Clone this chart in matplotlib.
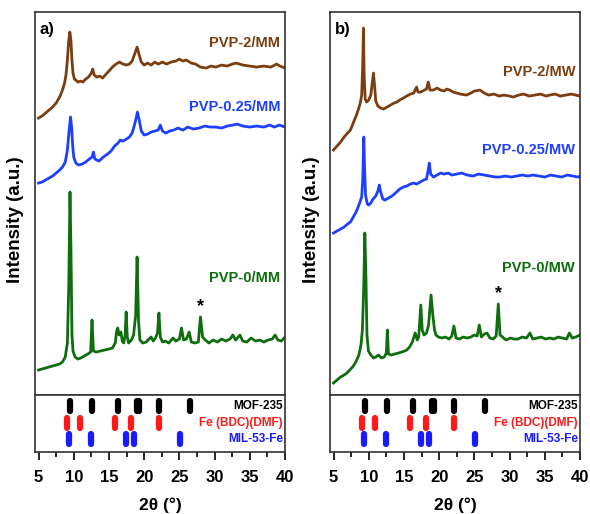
import numpy as np
import matplotlib
matplotlib.use("Agg")
import matplotlib.pyplot as plt
from matplotlib.ticker import MultipleLocator

plt.rcParams["font.family"] = ["Liberation Sans", "DejaVu Sans"]
plt.rcParams["font.weight"] = "bold"

# ---------------------------------------------------------------------------
# Data: 2theta (deg) and stacked intensity (a.u., offset)
# ---------------------------------------------------------------------------
two_theta_mm2 = [5.0, 5.5, 6.0, 6.5, 7.0, 7.5, 8.0, 8.4, 8.7, 8.9, 9.1, 9.3, 9.45, 9.6, 9.75, 9.9,
                 10.1, 10.3, 10.6, 11.0, 11.3, 11.7, 12.1, 12.5, 12.7, 12.9, 13.3, 13.7, 14.1,
                 14.6, 15.0, 15.5, 16.0, 16.5, 17.0, 17.5, 17.9, 18.3, 18.7, 19.0, 19.3, 19.6,
                 20.0, 20.5, 21.0, 21.5, 22.0, 22.6, 23.2, 23.8, 24.5, 25.0, 25.5, 26.0, 26.7,
                 27.3, 28.0, 28.8, 29.5, 30.2, 31.0, 31.8, 32.5, 33.1, 34.0, 35.0, 36.0, 37.0,
                 38.0, 38.8, 39.3, 40.0]
intensity_mm2 = [277, 279, 282, 285, 288, 292, 298, 305, 312, 320, 335, 355, 363, 355, 335, 322,
                 316, 315, 313, 314, 313, 316, 318, 322, 326, 320, 318, 319, 317,
                 321, 324, 328, 331, 333, 331, 330, 331, 334, 342, 348, 340, 333,
                 330, 332, 330, 333, 331, 333, 331, 333, 334, 336, 334, 335, 332,
                 331, 328, 327, 329, 328, 330, 329, 331, 332, 330, 329, 328, 329,
                 328, 331, 329, 327]

two_theta_mm025 = [5.0, 5.5, 6.0, 6.5, 7.0, 7.5, 8.0, 8.4, 8.8, 9.1, 9.35, 9.55, 9.7, 9.85, 10.0,
                   10.3, 10.7, 11.2, 11.7, 12.2, 12.6, 12.8, 13.0, 13.6, 14.2, 14.8, 15.3, 15.8,
                   16.3, 16.6, 17.0, 17.5, 17.9, 18.3, 18.7, 19.05, 19.3, 19.6, 20.0, 20.5, 21.0,
                   21.5, 22.0, 22.3, 22.6, 23.1, 23.6, 24.2, 24.8, 25.5, 26.2, 27.0, 27.8, 28.6,
                   29.4, 30.2, 31.0, 31.8, 32.6, 33.2, 34.0, 35.0, 36.0, 37.0, 37.8, 38.5, 39.2,
                   40.0]
intensity_mm025 = [212, 213, 215, 217, 219, 222, 225, 228, 233, 245, 265, 278, 268, 250, 238,
                   232, 230, 231, 233, 236, 238, 243, 236, 234, 238, 241, 244, 249,
                   252, 255, 254, 256, 258, 262, 272, 283, 275, 264, 260, 261, 263,
                   264, 265, 270, 264, 262, 264, 265, 267, 265, 268, 266, 267, 269,
                   268, 268, 267, 269, 270, 271, 269, 268, 269, 268, 270, 268, 270,
                   268]

two_theta_mm0 = [5.0, 5.5, 6.0, 6.5, 7.0, 7.5, 8.0, 8.4, 8.8, 9.1, 9.3, 9.47, 9.6, 9.75, 9.9,
                 10.2, 10.6, 11.0, 11.5, 12.0, 12.4, 12.6, 12.8, 13.2, 13.8, 14.4, 15.0, 15.5,
                 15.9, 16.1, 16.25, 16.45, 16.7, 16.9, 17.1, 17.3, 17.45, 17.6, 17.8, 18.2, 18.5,
                 18.8, 19.0, 19.2, 19.4, 19.8, 20.3, 20.7, 21.0, 21.3, 21.6, 21.9, 22.1, 22.3,
                 22.6, 23.0, 23.5, 24.1, 24.5, 25.0, 25.3, 25.6, 26.0, 26.4, 26.7, 27.2, 27.7,
                 28.0, 28.3, 28.7, 29.2, 29.8, 30.4, 31.0, 31.6, 32.2, 32.6, 33.0, 33.6, 34.0,
                 34.6, 35.2, 35.8, 36.4, 37.0, 37.6, 38.2, 38.6, 39.0, 39.5, 40.0]
intensity_mm0 = [25, 26, 27, 28, 29, 30, 31, 33, 38, 52, 110, 203, 150, 60, 44,
                 38, 36, 37, 39, 41, 43, 75, 44, 43, 44, 45, 46, 47,
                 52, 64, 67, 60, 63, 54, 52, 60, 83, 58, 52, 55, 60,
                 80, 138, 75, 55, 52, 53, 56, 58, 54, 57, 62, 82, 58,
                 53, 54, 52, 57, 54, 56, 67, 55, 56, 63, 53, 52, 53,
                 78, 58, 55, 52, 55, 53, 56, 54, 56, 60, 55, 60, 54,
                 53, 57, 54, 55, 53, 55, 56, 60, 55, 54, 58]

two_theta_mw2 = [5.0, 5.5, 6.0, 6.5, 7.0, 7.4, 7.8, 8.2, 8.5, 8.8, 9.0, 9.15, 9.25, 9.35, 9.5,
                 9.7, 10.0, 10.3, 10.5, 10.67, 10.85, 11.0, 11.3, 11.7, 12.1, 12.6, 13.1, 13.6,
                 14.0, 14.4, 14.9, 15.4, 15.9, 16.4, 16.65, 16.8, 17.0, 17.4, 17.9, 18.2, 18.45,
                 18.7, 19.2, 19.7, 20.2, 20.7, 21.1, 21.5, 22.0, 22.5, 23.0, 23.9, 24.5, 25.0,
                 25.8, 26.4, 27.0, 27.8, 28.5, 29.2, 30.0, 30.5, 31.3, 32.0, 32.8, 33.6, 34.4,
                 35.2, 35.7, 36.5, 37.2, 38.0, 38.8, 39.4, 40.0]
intensity_mw2 = [245, 249, 253, 258, 262, 265, 272, 279, 285, 292, 300, 330, 367, 320, 296,
                 293, 295, 300, 312, 322, 308, 294, 289, 287, 286, 288, 290, 292,
                 293, 295, 297, 299, 301, 302, 306, 308, 303, 303, 305, 306, 313,
                 305, 305, 307, 305, 304, 306, 305, 303, 302, 301, 300, 302, 304,
                 305, 302, 300, 301, 299, 300, 299, 298, 300, 301, 299, 300, 301,
                 299, 300, 301, 299, 300, 301, 300, 299]

two_theta_mw025 = [5.0, 5.5, 6.0, 6.5, 7.0, 7.4, 7.8, 8.2, 8.5, 8.8, 9.0, 9.15, 9.3, 9.4, 9.55,
                   9.8, 10.0, 10.3, 10.6, 11.0, 11.3, 11.5, 11.7, 12.0, 12.3, 12.8, 13.3, 13.8,
                   14.4, 14.9, 15.4, 15.9, 16.4, 16.8, 17.3, 17.8, 18.2, 18.45, 18.6, 18.8, 19.2,
                   19.7, 20.2, 20.7, 21.3, 21.8, 22.5, 23.2, 24.0, 24.8, 25.6, 26.4, 27.2, 28.0,
                   28.6, 29.4, 30.2, 31.0, 31.8, 32.6, 33.3, 34.2, 35.0, 35.8, 36.6, 37.4, 38.2,
                   39.0, 39.7, 40.0]
intensity_mw025 = [162, 164, 166, 168, 171, 173, 178, 183, 188, 194, 198, 215, 258, 230, 200,
                   191, 190, 192, 196, 199, 204, 210, 203, 196, 195, 197, 199, 202,
                   206, 208, 209, 211, 212, 211, 213, 215, 216, 225, 232, 221, 218,
                   220, 222, 221, 222, 220, 221, 222, 220, 219, 221, 220, 219, 218,
                   218, 219, 218, 219, 220, 219, 220, 219, 218, 220, 219, 218, 220,
                   219, 218, 219]

two_theta_mw0 = [5.0, 5.5, 6.0, 6.5, 6.9, 7.3, 7.7, 8.0, 8.3, 8.6, 8.9, 9.1, 9.3, 9.45, 9.6,
                 9.75, 9.96, 10.3, 10.7, 11.0, 11.4, 11.8, 12.2, 12.5, 12.65, 12.8, 13.2, 13.7,
                 14.2, 14.7, 15.1, 15.4, 15.8, 16.2, 16.6, 16.9, 17.1, 17.4, 17.6, 17.85, 18.2,
                 18.5, 18.85, 19.1, 19.35, 19.55, 19.9, 20.4, 20.9, 21.4, 21.8, 22.1, 22.4, 22.9,
                 23.4, 24.0, 24.5, 25.0, 25.4, 25.7, 26.0, 26.4, 26.8, 27.2, 27.7, 28.1, 28.4,
                 28.65, 29.0, 29.5, 30.1, 30.6, 31.2, 31.8, 32.4, 32.9, 33.3, 33.9, 34.5, 35.1,
                 35.7, 36.3, 36.9, 37.5, 38.1, 38.5, 38.9, 39.4, 40.0]
intensity_mw0 = [12, 15, 18, 20, 22, 25, 28, 31, 35, 40, 50, 65, 110, 162, 120,
                 60, 44, 40, 37, 38, 40, 37, 38, 42, 65, 41, 40, 41,
                 42, 43, 44, 45, 48, 53, 62, 55, 58, 90, 65, 60, 62,
                 70, 100, 80, 65, 60, 58, 57, 58, 56, 59, 69, 57, 56,
                 58, 57, 58, 60, 59, 70, 58, 61, 62, 57, 56, 59, 91,
                 60, 58, 55, 57, 56, 56, 58, 57, 62, 56, 57, 58, 56,
                 57, 56, 58, 57, 56, 62, 57, 58, 60]

# reference pattern positions (2theta, deg)
ref_names = ["MOF-235", "Fe (BDC)(DMF)", "MIL-53-Fe"]
ref_mof235 = [9.5, 12.6, 16.3, 18.95, 19.2, 22.1, 26.5]
ref_febdc = [9.1, 10.9, 15.8, 18.2, 22.05]
ref_mil53 = [9.3, 12.5, 17.4, 18.5, 25.1]

# star marks the unassigned reflection
star_mm = (28.0, 88)
star_mw = (28.4, 101)

BROWN = "#7a3e10"
BLUE = "#1f3fff"
GREEN = "#0e6e0e"
REF_COLORS = ["black", "#ff1a1a", "#1a1aff"]
REF_ROWS = [0.81, 0.51, 0.23]


def draw_panel(fig, left, curves, labels, label_y, star, tag):
    ax = fig.add_axes([left, 0.2315, 0.4237, 0.745])
    strip = fig.add_axes([left, 0.1206, 0.4237, 0.1109], sharex=ax)

    for (x, y), c in zip(curves, [BROWN, BLUE, GREEN]):
        ax.plot(x, y, color=c, lw=2.0, solid_joinstyle="round")
    for text, ly, c in zip(labels, label_y, [BROWN, BLUE, GREEN]):
        ax.text(39.3, ly, text, color=c, fontsize=10.5, fontweight="bold",
                ha="right", va="center")
    ax.text(star[0], star[1], "*", fontsize=13, fontweight="bold",
            ha="center", va="center")
    ax.text(0.02, 0.955, tag, transform=ax.transAxes, fontsize=12,
            fontweight="bold", ha="left", va="center")

    ax.set_xlim(4.5, 40)
    ax.set_ylim(0, 383)
    ax.tick_params(which="both", bottom=False, left=False,
                   labelbottom=False, labelleft=False)

    for pos, row, c, name in zip([ref_mof235, ref_febdc, ref_mil53],
                                 REF_ROWS, REF_COLORS, ref_names):
        strip.vlines(pos, row - 0.09, row + 0.09, color=c, lw=4.5,
                     capstyle="round")
        strip.text(39.7, row, name, color=c, fontsize=8.5, fontweight="bold",
                   ha="right", va="center")
    strip.set_ylim(0, 1)
    strip.set_yticks([])
    strip.xaxis.set_major_locator(MultipleLocator(5))
    strip.xaxis.set_minor_locator(MultipleLocator(2.5))
    strip.tick_params(which="major", direction="out", length=6, width=1.2,
                      labelsize=12, pad=7)
    strip.tick_params(which="minor", direction="out", length=3.5, width=1.2)
    for lab in strip.get_xticklabels():
        lab.set_fontweight("bold")
    strip.set_xlabel("2θ (°)", fontsize=12.5, fontweight="bold", labelpad=9)

    for a in (ax, strip):
        for sp in a.spines.values():
            sp.set_linewidth(1.2)
            sp.set_color("#333333")
    return ax, strip


fig = plt.figure(figsize=(5.9, 5.14), dpi=100)

draw_panel(fig, 0.0593,
           [(two_theta_mm2, intensity_mm2), (two_theta_mm025, intensity_mm025),
            (two_theta_mm0, intensity_mm0)],
           ["PVP-2/MM", "PVP-0.25/MM", "PVP-0/MM"], [352, 288, 117],
           star_mm, "a)")
draw_panel(fig, 0.5593,
           [(two_theta_mw2, intensity_mw2), (two_theta_mw025, intensity_mw025),
            (two_theta_mw0, intensity_mw0)],
           ["PVP-2/MW", "PVP-0.25/MW", "PVP-0/MW"], [323, 245, 127],
           star_mw, "b)")

for xpos in (15 / 590, 312 / 590):
    fig.text(xpos, 1 - 220 / 514, "Intensity (a.u.)", rotation=90,
             fontsize=13.5, fontweight="bold", ha="center", va="center")

fig.savefig("out.png", dpi=100)
